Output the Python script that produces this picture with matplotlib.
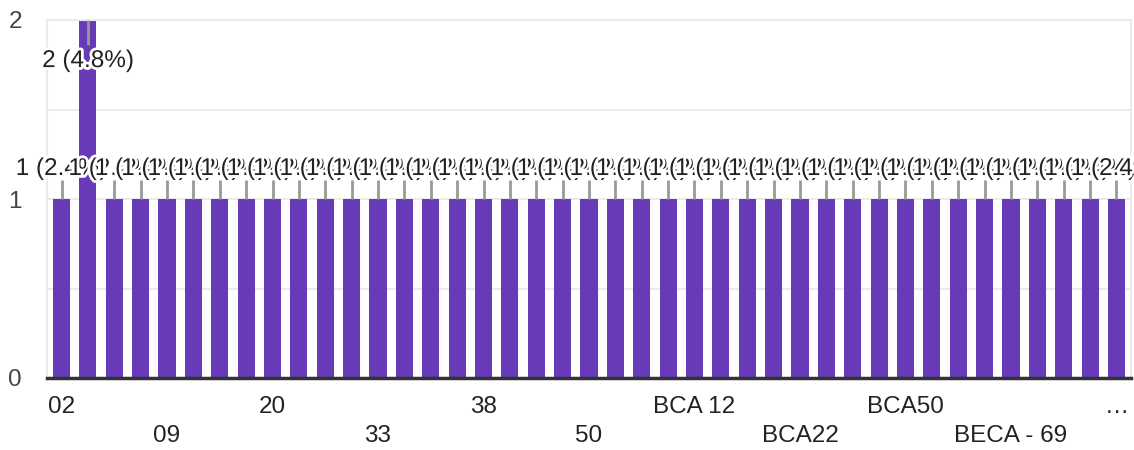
import matplotlib
matplotlib.use("Agg")
import matplotlib.pyplot as plt
import matplotlib.patheffects as pe

# 41 answers; only every 4th label is readable in the chart, the rest left blank
categories = ["02", "", "", "", "09", "", "", "", "20", "", "", "", "33", "", "", "",
              "38", "", "", "", "50", "", "", "", "BCA 12", "", "", "", "BCA22", "", "", "",
              "BCA50", "", "", "", "BECA - 69", "", "", "", "…"]
counts = [1, 2, 1, 1, 1, 1, 1, 1, 1, 1, 1, 1, 1, 1, 1, 1, 1, 1, 1, 1, 1,
          1, 1, 1, 1, 1, 1, 1, 1, 1, 1, 1, 1, 1, 1, 1, 1, 1, 1, 1, 1]
y_ticks = [0, 1, 2]

bar_color = "#673ab7"
text_color = "#222222"
grid_color = "#ebebeb"
plt.rcParams["font.family"] = ["Liberation Sans", "DejaVu Sans"]
fs = 17.5

total = sum(counts)
ymax = 2
x = list(range(len(counts)))

fig = plt.figure(figsize=(11.34, 4.5), dpi=100)
ax = fig.add_axes([47 / 1134, 1 - 378 / 450, (1131 - 47) / 1134, 358 / 450])

ax.bar(x, counts, width=0.65, color=bar_color, zorder=2)

ax.set_xlim(-0.55, len(counts) - 0.45)
ax.set_ylim(0, ymax)
ax.set_yticks(y_ticks)
ax.set_yticks([0.5, 1.5], minor=True)
ax.set_yticklabels([str(t) for t in y_ticks], fontsize=fs, color="#444444")
ax.tick_params(axis="y", which="both", length=0, pad=18)
ax.set_xticks([])
ax.grid(axis="y", which="both", color=grid_color, linewidth=1.5, zorder=0)
for side in ["left", "right", "top"]:
    ax.spines[side].set_color(grid_color)
    ax.spines[side].set_linewidth(1.5)
ax.spines["bottom"].set_color("#333333")
ax.spines["bottom"].set_linewidth(2.5)
ax.spines["bottom"].set_zorder(3)

# category labels: every 4th bar, alternating two rows
shown = [i for i in x if i % 4 == 0]
for k, i in enumerate(shown):
    row_y = -0.08 if k % 2 == 0 else -0.163
    ax.text(i, row_y, categories[i], transform=ax.get_xaxis_transform(),
            ha="center", va="center", fontsize=fs, color=text_color, clip_on=False)

# value annotations with leader lines
halo = [pe.withStroke(linewidth=4, foreground="white")]
for i, v in enumerate(counts):
    label = f"{v} ({v / total * 100:.1f}%)"
    if v >= ymax:
        ax.plot([i, i], [v, v - 0.14], color="#999999", linewidth=2, zorder=3,
                solid_capstyle="butt")
        ty = v - 0.263
    else:
        ax.plot([i, i], [v, v + 0.106], color="#999999", linewidth=2, zorder=3,
                solid_capstyle="butt")
        ty = v + 0.134
    ax.text(i, ty, label, ha="center", va="baseline", fontsize=fs, color=text_color,
            path_effects=halo, zorder=4, clip_on=False)

fig.savefig("out.png", dpi=100)
